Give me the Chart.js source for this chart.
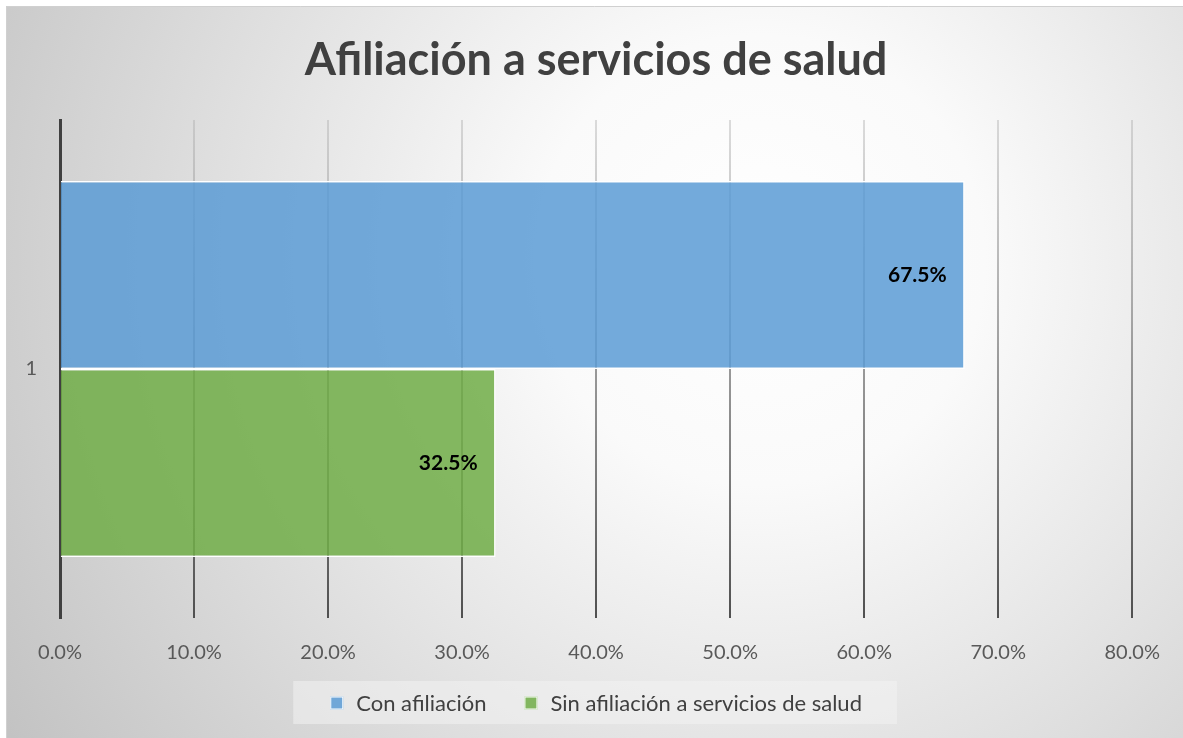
<!DOCTYPE html>
<html>
<head>
<meta charset="utf-8">
<script src="https://cdn.jsdelivr.net/npm/chart.js@4/dist/chart.umd.min.js"></script>
<style>
html,body{margin:0;padding:0;background:#fff;}
#wrap{width:1183px;height:738px;position:relative;}
</style>
</head>
<body>
<div id="wrap"><canvas id="c" width="1183" height="738"></canvas></div>
<script>
const categories = ['1'];
const seriesNames = ['Con afiliación', 'Sin afiliación a servicios de salud'];
const conAfiliacion = [0.675];
const sinAfiliacion = [0.325];
const xTicks = [0, 0.1, 0.2, 0.3, 0.4, 0.5, 0.6, 0.7, 0.8];
const titleText = 'Afiliación a servicios de salud';

const FONT = 'Lato, "Open Sans", sans-serif';

const bgPlugin = {
  id: 'bg',
  beforeDraw(chart) {
    const ctx = chart.ctx;
    const W = chart.width, H = chart.height;
    ctx.save();
    ctx.fillStyle = '#ffffff';
    ctx.fillRect(0, 0, W, H);
    const g = ctx.createRadialGradient(760, 260, 0, 760, 260, 900);
    g.addColorStop(0, '#ffffff');
    g.addColorStop(0.25, '#fafafa');
    g.addColorStop(1, '#c2c2c2');
    ctx.fillStyle = g;
    ctx.fillRect(6, 6, W - 6, H - 6);
    ctx.strokeStyle = '#d0d0d0';
    ctx.lineWidth = 1;
    ctx.beginPath();
    ctx.moveTo(6.5, H); ctx.lineTo(6.5, 6.5); ctx.lineTo(W, 6.5);
    ctx.stroke();
    ctx.restore();
  }
};

// bottom legend drawn from the datasets (Excel-like spacing)
const legendPlugin = {
  id: 'customLegend',
  afterDraw(chart) {
    const ctx = chart.ctx;
    const area = chart.chartArea;
    const cx = (area.left + area.right) / 2;
    const cy = 703;
    const box = 13, textGap = 13, itemGap = 38;
    ctx.save();
    ctx.font = '22px ' + FONT;
    const items = chart.data.datasets.map(ds => ({
      text: ds.label, color: ds.backgroundColor, w: ctx.measureText(ds.label).width
    }));
    let total = 0;
    items.forEach((it, i) => { total += box + textGap + it.w + (i ? itemGap : 0); });
    let x = cx - total / 2;
    // background panel
    ctx.fillStyle = 'rgba(242,242,242,0.55)';
    ctx.fillRect(x - 37, cy - 22, total + 72, 43);
    ctx.textBaseline = 'middle';
    ctx.textAlign = 'left';
    items.forEach((it, i) => {
      if (i) x += itemGap;
      ctx.fillStyle = it.color;
      ctx.fillRect(x, cy - box / 2, box, box);
      ctx.strokeStyle = '#ffffff';
      ctx.lineWidth = 1;
      ctx.strokeRect(x + 0.5, cy - box / 2 + 0.5, box - 1, box - 1);
      x += box + textGap;
      ctx.fillStyle = '#404040';
      ctx.fillText(it.text, x, cy + 1);
      x += it.w;
    });
    ctx.restore();
  }
};

const labelPlugin = {
  id: 'barLabels',
  afterDatasetsDraw(chart) {
    const ctx = chart.ctx;
    ctx.save();
    ctx.font = 'bold 21px ' + FONT;
    ctx.fillStyle = '#000000';
    ctx.textAlign = 'right';
    ctx.textBaseline = 'middle';
    chart.data.datasets.forEach((ds, i) => {
      const meta = chart.getDatasetMeta(i);
      meta.data.forEach((bar, j) => {
        const v = ds.data[j];
        ctx.fillText((v * 100).toFixed(1) + '%', bar.x - 18, bar.y);
      });
    });
    ctx.restore();
  }
};

function gridColor(context) {
  const chart = context.chart;
  const area = chart.chartArea;
  if (!area) return '#8a8a8a';
  const g = chart.ctx.createLinearGradient(0, area.top, 0, area.bottom);
  g.addColorStop(0, 'rgba(170,170,170,0.4)');
  g.addColorStop(0.5, 'rgba(120,120,120,0.75)');
  g.addColorStop(1, 'rgba(80,80,80,1)');
  return g;
}

new Chart(document.getElementById('c'), {
  type: 'bar',
  data: {
    labels: categories,
    datasets: [
      {
        label: seriesNames[0],
        data: conAfiliacion,
        backgroundColor: 'rgba(91,155,213,0.85)',
        borderColor: '#ffffff',
        borderWidth: 1.5,
        borderSkipped: 'start'
      },
      {
        label: seriesNames[1],
        data: sinAfiliacion,
        backgroundColor: 'rgba(112,173,71,0.85)',
        borderColor: '#ffffff',
        borderWidth: 1.5,
        borderSkipped: 'start'
      }
    ]
  },
  options: {
    indexAxis: 'y',
    responsive: false,
    animation: false,
    devicePixelRatio: 1,
    layout: { padding: { left: 6, right: 46, top: 6, bottom: 56 } },
    datasets: { bar: { categoryPercentage: 0.755, barPercentage: 1.0 } },
    plugins: {
      title: {
        display: true,
        fullSize: false,
        text: titleText,
        color: '#404040',
        font: { family: FONT, size: 45, weight: 'bold', lineHeight: 1.2 },
        padding: { top: 27, bottom: 33 }
      },
      legend: { display: false },
      tooltip: { enabled: false }
    },
    scales: {
      x: {
        type: 'linear',
        min: 0,
        max: 0.8,
        afterFit(scale) { scale.height = 64; },
        afterBuildTicks(scale) { scale.ticks = xTicks.map(v => ({ value: v })); },
        ticks: {
          color: '#595959',
          font: { family: FONT, size: 20 },
          padding: 23,
          callback: v => (v * 100).toFixed(1) + '%'
        },
        grid: {
          display: true,
          drawTicks: false,
          lineWidth: 2,
          color: gridColor
        },
        border: { display: false }
      },
      y: {
        type: 'category',
        afterFit(scale) { scale.width = 54; },
        ticks: {
          color: '#595959',
          font: { family: FONT, size: 20 },
          padding: 23
        },
        grid: { display: false, drawTicks: false },
        border: { display: true, color: '#404040', width: 3 }
      }
    }
  },
  plugins: [bgPlugin, labelPlugin, legendPlugin]
});
</script>
</body>
</html>
